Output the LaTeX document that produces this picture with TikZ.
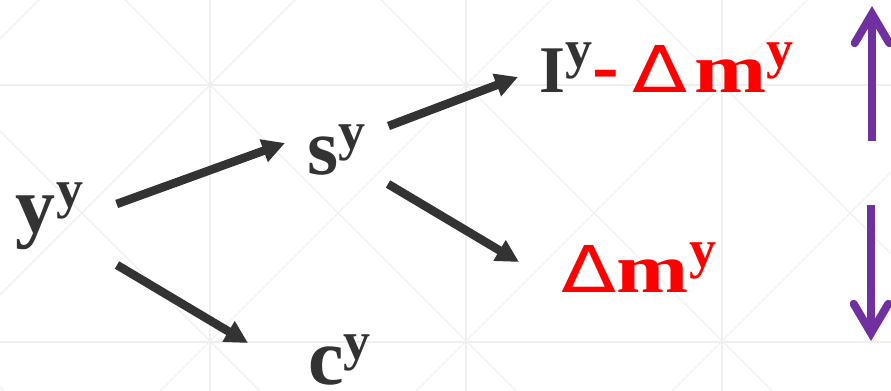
\documentclass[tikz,border=0pt]{standalone}
\usepackage{fontspec}
\setmainfont{Liberation Serif}
\newfontfamily\deltafont{DejaVu Sans}
\usetikzlibrary{arrows.meta,calc}
\definecolor{ink}{HTML}{333333}
\definecolor{redt}{HTML}{FF0000}
\definecolor{purp}{HTML}{7030A0}
\definecolor{gridc}{HTML}{EFEFEF}
\newcommand{\supy}{\raisebox{18.75pt}{\fontsize{40.5pt}{40.5pt}\selectfont y}}
\newcommand{\bigf}{\fontsize{60pt}{60pt}\selectfont}
\newcommand{\dlt}{\scalebox{1.25}[1]{\deltafont\mdseries\fontsize{48.4pt}{48pt}\selectfont Δ}}
\newcommand{\wm}{\scalebox{1.25}[1]{\fontsize{52pt}{52pt}\selectfont m}}
\begin{document}
\begin{tikzpicture}[x=0.75pt,y=-0.75pt,
  lbl/.style={inner sep=0pt, anchor=base west, font=\bfseries\bigf, text=ink},
  arr/.style={draw=ink, line width=6.4pt, -{Triangle[length=17pt,width=17pt]}},
  parr/.style={draw=purp, line width=6pt, -{Straight Barb[length=22pt,width=26pt,line cap=round]}},
  gridl/.style={draw=gridc, line width=0.8pt}]
\useasboundingbox (0,0) rectangle (891,391);
\begin{scope}
\clip (0,0) rectangle (891,391);
\foreach \gx in {210,466,722} \draw[gridl] (\gx,-5) -- (\gx,396);
\foreach \gy in {85,342} \draw[gridl] (-5,\gy) -- (896,\gy);
\foreach \dd in {-387,-131,125,381,637} \draw[gridl] (\dd-10,-10) -- (\dd+410,410);
\foreach \dd in {39,295,551,807,1063} \draw[gridl] (\dd+10,-10) -- (\dd-410,410);
\end{scope}
\node[lbl] (yy) at (15,233) {y\kern1pt\supy};
\node[lbl] (ss) at (307,175) {s\supy};
\node[lbl] (cc) at (308,384) {c\supy};
\node[lbl] (inv) at (539,93) {{\fontsize{50pt}{50pt}\selectfont I}\supy\textcolor{redt}{-\hspace{10.3pt}\dlt\kern5pt\wm\supy}};
\node[lbl] (dm) at (561,292) {\textcolor{redt}{\dlt\kern0.3pt\wm\supy}};
\draw[arr] ([shift={(101.7,-29)}]yy.base west) -- ([shift={(-22,-32)}]ss.base west);
\draw[arr] ([shift={(102,32)}]yy.base west) -- ([shift={(-60,-41)}]cc.base west);
\draw[arr] ([shift={(81.5,-49)}]ss.base west) -- ([shift={(-21,-16)}]inv.base west);
\draw[arr] ([shift={(81,9)}]ss.base west) -- ([shift={(-42,-30)}]dm.base west);
\coordinate (upb) at (872,141);
\coordinate (upt) at (872,6);
\draw[parr] (upb) -- (upt);
\coordinate (dnt) at (871,205);
\coordinate (dnb) at (871,341);
\draw[parr] (dnt) -- (dnb);
\end{tikzpicture}
\end{document}
